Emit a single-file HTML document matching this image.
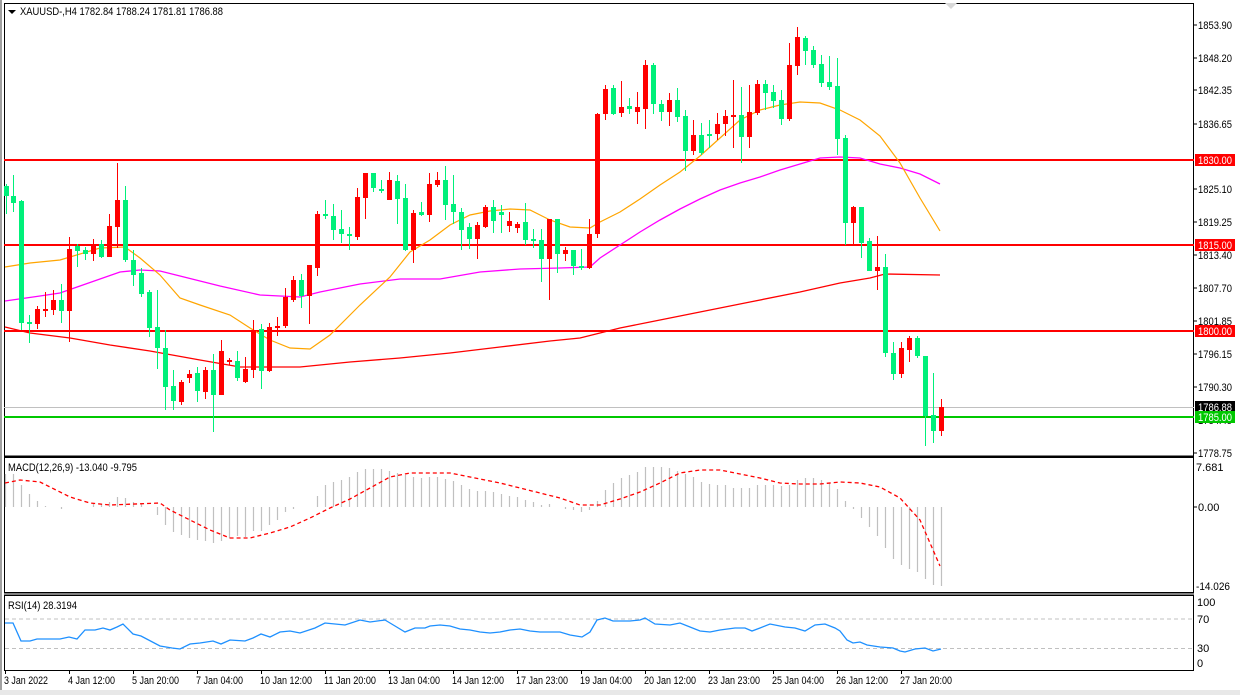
<!DOCTYPE html>
<html><head><meta charset="utf-8"><style>
html,body{margin:0;padding:0;background:#fff;}
svg{display:block;font-family:"Liberation Sans",sans-serif;font-size:11px;}
</style></head><body>
<svg width="1240" height="695" viewBox="0 0 1240 695" xmlns="http://www.w3.org/2000/svg">
<rect width="1240" height="695" fill="#fff"/>
<rect x="0" y="0" width="2" height="695" fill="#a0a0a0"/>
<rect x="0" y="690" width="1240" height="5" fill="#e8e8e8"/>
<!-- panels -->
<rect x="4.5" y="3.5" width="1189" height="453" fill="none" stroke="#000"/>
<rect x="4.5" y="457.5" width="1189" height="135" fill="none" stroke="#000"/>
<rect x="4.5" y="595.5" width="1189" height="75" fill="none" stroke="#000"/>
<line x1="4" y1="594" x2="1194" y2="594" stroke="#000"/>
<line x1="4" y1="456" x2="1194" y2="456" stroke="#000"/>
<polygon points="945,3 957,3 951,9" fill="#d8d8d8"/>

<!-- title -->
<polygon points="8,10 16,10 12,14" fill="#000"/>
<text x="20" y="15" fill="#000" textLength="203" lengthAdjust="spacingAndGlyphs">XAUUSD-,H4  1782.84 1788.24 1781.81 1786.88</text>

<!-- horizontal levels -->
<line x1="4" y1="407.5" x2="1194" y2="407.5" stroke="#c0c0c0"/>
<rect x="4" y="159" width="1190" height="2" fill="#ff0000"/>
<rect x="4" y="244" width="1190" height="2" fill="#ff0000"/>
<rect x="4" y="330" width="1190" height="2" fill="#ff0000"/>
<rect x="4" y="416" width="1190" height="2" fill="#00c800"/>

<!-- MAs -->
<polyline fill="none" stroke="#ff0000" stroke-width="1.3" points="5,327 30,333 70,338 110,345 150,351 200,360 240,367 300,367 350,362 400,358 450,353 500,347 550,341 580,338 600,333 620,328 650,322 700,312 750,302 800,292 840,283 870,278 885,274 940,275"/>
<polyline fill="none" stroke="#ff00ff" stroke-width="1.3" points="5,301 40,296 60,293 80,286 100,279 120,272 140,270 160,271 180,276 200,281 220,286 260,295 300,297 320,292 360,284 400,279 440,279 480,272 520,269 560,268 590,267 600,258 620,245 640,232 660,220 680,209 700,199 720,190 740,183 760,177 780,170 800,164 820,158 840,157 860,158 880,164 900,168 920,174 940,184"/>
<polyline fill="none" stroke="#ffa500" stroke-width="1.2" points="5,267 30,263 60,260 100,248 125,247 140,258 160,275 180,298 200,305 230,315 250,328 270,340 290,348 310,349 330,335 360,305 390,277 410,252 430,240 450,225 470,215 490,211 510,209 530,210 550,220 570,227 590,228 600,222 620,212 640,199 660,185 680,172 700,156 720,138 740,120 760,110 780,105 800,102 820,103 840,110 860,120 880,136 900,163 920,198 940,231"/>

<!-- candles -->
<g id="c">
<g stroke="#00f07a" fill="#00f07a">
<line x1="6.5" y1="184" x2="6.5" y2="214"/><rect x="4" y="186" width="5" height="10" stroke="none"/>
<line x1="13.5" y1="175" x2="13.5" y2="212"/><rect x="11" y="196" width="5" height="7" stroke="none"/>
<line x1="21.5" y1="200" x2="21.5" y2="330"/><rect x="19" y="201" width="5" height="122" stroke="none"/>
<line x1="29.5" y1="315" x2="29.5" y2="343"/><rect x="27" y="322" width="5" height="2" stroke="none"/>
<line x1="61.5" y1="284" x2="61.5" y2="323"/><rect x="59" y="300" width="5" height="11" stroke="none"/>
<line x1="77.5" y1="244" x2="77.5" y2="267"/><rect x="75" y="246" width="5" height="5" stroke="none"/>
<line x1="85.5" y1="247" x2="85.5" y2="260"/><rect x="83" y="250" width="5" height="4" stroke="none"/>
<line x1="101.5" y1="240" x2="101.5" y2="258"/><rect x="99" y="244" width="5" height="13" stroke="none"/>
<line x1="125.5" y1="186" x2="125.5" y2="262"/><rect x="123" y="200" width="5" height="60" stroke="none"/>
<line x1="133.5" y1="250" x2="133.5" y2="286"/><rect x="131" y="260" width="5" height="15" stroke="none"/>
<line x1="141.5" y1="268" x2="141.5" y2="297"/><rect x="139" y="273" width="5" height="21" stroke="none"/>
<line x1="149.5" y1="290" x2="149.5" y2="337"/><rect x="147" y="292" width="5" height="36" stroke="none"/>
<line x1="157.5" y1="290" x2="157.5" y2="369"/><rect x="155" y="327" width="5" height="21" stroke="none"/>
<line x1="165.5" y1="330" x2="165.5" y2="410"/><rect x="163" y="348" width="5" height="39" stroke="none"/>
<line x1="173.5" y1="370" x2="173.5" y2="410"/><rect x="171" y="386" width="5" height="15" stroke="none"/>
<line x1="197.5" y1="367" x2="197.5" y2="402"/><rect x="195" y="373" width="5" height="18" stroke="none"/>
<line x1="213.5" y1="354" x2="213.5" y2="432"/><rect x="211" y="370" width="5" height="25" stroke="none"/>
<line x1="237.5" y1="351" x2="237.5" y2="381"/><rect x="235" y="361" width="5" height="17" stroke="none"/>
<line x1="261.5" y1="324" x2="261.5" y2="389"/><rect x="259" y="329" width="5" height="42" stroke="none"/>
<line x1="301.5" y1="274" x2="301.5" y2="308"/><rect x="299" y="280" width="5" height="16" stroke="none"/>
<line x1="325.5" y1="200" x2="325.5" y2="219"/><rect x="323" y="214" width="5" height="2" stroke="none"/>
<line x1="333.5" y1="204" x2="333.5" y2="240"/><rect x="331" y="216" width="5" height="14" stroke="none"/>
<line x1="341.5" y1="210" x2="341.5" y2="243"/><rect x="339" y="229" width="5" height="5" stroke="none"/>
<line x1="349.5" y1="227" x2="349.5" y2="250"/><rect x="347" y="234" width="5" height="2" stroke="none"/>
<line x1="373.5" y1="173" x2="373.5" y2="192"/><rect x="371" y="173" width="5" height="15" stroke="none"/>
<line x1="381.5" y1="180" x2="381.5" y2="193"/><rect x="379" y="189" width="5" height="2" stroke="none"/>
<line x1="397.5" y1="175" x2="397.5" y2="224"/><rect x="395" y="181" width="5" height="18" stroke="none"/>
<line x1="405.5" y1="184" x2="405.5" y2="251"/><rect x="403" y="198" width="5" height="52" stroke="none"/>
<line x1="421.5" y1="202" x2="421.5" y2="216"/><rect x="419" y="212" width="5" height="3" stroke="none"/>
<line x1="445.5" y1="166" x2="445.5" y2="220"/><rect x="443" y="180" width="5" height="25" stroke="none"/>
<line x1="453.5" y1="175" x2="453.5" y2="224"/><rect x="451" y="204" width="5" height="8" stroke="none"/>
<line x1="461.5" y1="208" x2="461.5" y2="250"/><rect x="459" y="212" width="5" height="18" stroke="none"/>
<line x1="469.5" y1="223" x2="469.5" y2="249"/><rect x="467" y="227" width="5" height="12" stroke="none"/>
<line x1="493.5" y1="200" x2="493.5" y2="233"/><rect x="491" y="207" width="5" height="14" stroke="none"/>
<line x1="501.5" y1="205" x2="501.5" y2="233"/><rect x="499" y="212" width="5" height="3" stroke="none"/>
<line x1="525.5" y1="203" x2="525.5" y2="245"/><rect x="523" y="222" width="5" height="18" stroke="none"/>
<line x1="533.5" y1="229" x2="533.5" y2="248"/><rect x="531" y="239" width="5" height="2" stroke="none"/>
<line x1="541.5" y1="229" x2="541.5" y2="282"/><rect x="539" y="240" width="5" height="19" stroke="none"/>
<line x1="557.5" y1="219" x2="557.5" y2="273"/><rect x="555" y="219" width="5" height="35" stroke="none"/>
<line x1="573.5" y1="250" x2="573.5" y2="275"/><rect x="571" y="250" width="5" height="16" stroke="none"/>
<line x1="581.5" y1="249" x2="581.5" y2="270"/><rect x="579" y="266" width="5" height="2" stroke="none"/>
<line x1="613.5" y1="85" x2="613.5" y2="115"/><rect x="611" y="88" width="5" height="26" stroke="none"/>
<line x1="629.5" y1="98" x2="629.5" y2="114"/><rect x="627" y="106" width="5" height="3" stroke="none"/>
<line x1="653.5" y1="63" x2="653.5" y2="114"/><rect x="651" y="65" width="5" height="39" stroke="none"/>
<line x1="661.5" y1="100" x2="661.5" y2="121"/><rect x="659" y="104" width="5" height="8" stroke="none"/>
<line x1="677.5" y1="88" x2="677.5" y2="122"/><rect x="675" y="100" width="5" height="17" stroke="none"/>
<line x1="685.5" y1="110" x2="685.5" y2="171"/><rect x="683" y="116" width="5" height="35" stroke="none"/>
<line x1="701.5" y1="123" x2="701.5" y2="155"/><rect x="699" y="135" width="5" height="18" stroke="none"/>
<line x1="709.5" y1="120" x2="709.5" y2="148"/><rect x="707" y="134" width="5" height="2" stroke="none"/>
<line x1="741.5" y1="87" x2="741.5" y2="163"/><rect x="739" y="115" width="5" height="22" stroke="none"/>
<line x1="765.5" y1="80" x2="765.5" y2="110"/><rect x="763" y="84" width="5" height="9" stroke="none"/>
<line x1="773.5" y1="85" x2="773.5" y2="108"/><rect x="771" y="92" width="5" height="9" stroke="none"/>
<line x1="781.5" y1="90" x2="781.5" y2="125"/><rect x="779" y="100" width="5" height="19" stroke="none"/>
<line x1="805.5" y1="36" x2="805.5" y2="65"/><rect x="803" y="38" width="5" height="13" stroke="none"/>
<line x1="813.5" y1="46" x2="813.5" y2="68"/><rect x="811" y="50" width="5" height="15" stroke="none"/>
<line x1="821.5" y1="55" x2="821.5" y2="87"/><rect x="819" y="64" width="5" height="19" stroke="none"/>
<line x1="829.5" y1="56" x2="829.5" y2="90"/><rect x="827" y="82" width="5" height="5" stroke="none"/>
<line x1="837.5" y1="58" x2="837.5" y2="155"/><rect x="835" y="86" width="5" height="53" stroke="none"/>
<line x1="845.5" y1="135" x2="845.5" y2="245"/><rect x="843" y="138" width="5" height="85" stroke="none"/>
<line x1="861.5" y1="207" x2="861.5" y2="258"/><rect x="859" y="207" width="5" height="36" stroke="none"/>
<line x1="869.5" y1="238" x2="869.5" y2="258"/><rect x="867" y="241" width="5" height="30" stroke="none"/>
<line x1="885.5" y1="254" x2="885.5" y2="357"/><rect x="883" y="267" width="5" height="86" stroke="none"/>
<line x1="893.5" y1="342" x2="893.5" y2="380"/><rect x="891" y="353" width="5" height="21" stroke="none"/>
<line x1="917.5" y1="336" x2="917.5" y2="358"/><rect x="915" y="338" width="5" height="18" stroke="none"/>
<line x1="925.5" y1="356" x2="925.5" y2="446"/><rect x="923" y="356" width="5" height="60" stroke="none"/>
<line x1="933.5" y1="373" x2="933.5" y2="443"/><rect x="931" y="415" width="5" height="16" stroke="none"/>
</g>
<g stroke="#ff0000" fill="#ff0000">
<line x1="37.5" y1="306" x2="37.5" y2="329"/><rect x="35" y="309" width="5" height="15" stroke="none"/>
<line x1="45.5" y1="292" x2="45.5" y2="317"/><rect x="43" y="309" width="5" height="2" stroke="none"/>
<line x1="53.5" y1="290" x2="53.5" y2="315"/><rect x="51" y="300" width="5" height="10" stroke="none"/>
<line x1="69.5" y1="237" x2="69.5" y2="342"/><rect x="67" y="249" width="5" height="62" stroke="none"/>
<line x1="93.5" y1="239" x2="93.5" y2="261"/><rect x="91" y="244" width="5" height="10" stroke="none"/>
<line x1="109.5" y1="214" x2="109.5" y2="257"/><rect x="107" y="226" width="5" height="31" stroke="none"/>
<line x1="117.5" y1="163" x2="117.5" y2="248"/><rect x="115" y="200" width="5" height="27" stroke="none"/>
<line x1="181.5" y1="380" x2="181.5" y2="405"/><rect x="179" y="382" width="5" height="20" stroke="none"/>
<line x1="189.5" y1="370" x2="189.5" y2="383"/><rect x="187" y="374" width="5" height="4" stroke="none"/>
<line x1="205.5" y1="367" x2="205.5" y2="399"/><rect x="203" y="370" width="5" height="22" stroke="none"/>
<line x1="221.5" y1="340" x2="221.5" y2="395"/><rect x="219" y="351" width="5" height="44" stroke="none"/>
<line x1="229.5" y1="358" x2="229.5" y2="365"/><rect x="227" y="360" width="5" height="2" stroke="none"/>
<line x1="245.5" y1="357" x2="245.5" y2="383"/><rect x="243" y="369" width="5" height="13" stroke="none"/>
<line x1="253.5" y1="320" x2="253.5" y2="378"/><rect x="251" y="330" width="5" height="40" stroke="none"/>
<line x1="269.5" y1="323" x2="269.5" y2="372"/><rect x="267" y="327" width="5" height="44" stroke="none"/>
<line x1="277.5" y1="317" x2="277.5" y2="336"/><rect x="275" y="326" width="5" height="2" stroke="none"/>
<line x1="285.5" y1="288" x2="285.5" y2="328"/><rect x="283" y="297" width="5" height="29" stroke="none"/>
<line x1="293.5" y1="276" x2="293.5" y2="302"/><rect x="291" y="280" width="5" height="20" stroke="none"/>
<line x1="309.5" y1="265" x2="309.5" y2="324"/><rect x="307" y="265" width="5" height="31" stroke="none"/>
<line x1="317.5" y1="211" x2="317.5" y2="276"/><rect x="315" y="214" width="5" height="54" stroke="none"/>
<line x1="357.5" y1="188" x2="357.5" y2="240"/><rect x="355" y="197" width="5" height="40" stroke="none"/>
<line x1="365.5" y1="173" x2="365.5" y2="219"/><rect x="363" y="173" width="5" height="25" stroke="none"/>
<line x1="389.5" y1="172" x2="389.5" y2="200"/><rect x="387" y="180" width="5" height="20" stroke="none"/>
<line x1="413.5" y1="210" x2="413.5" y2="263"/><rect x="411" y="213" width="5" height="37" stroke="none"/>
<line x1="429.5" y1="173" x2="429.5" y2="222"/><rect x="427" y="184" width="5" height="31" stroke="none"/>
<line x1="437.5" y1="172" x2="437.5" y2="187"/><rect x="435" y="180" width="5" height="5" stroke="none"/>
<line x1="477.5" y1="222" x2="477.5" y2="259"/><rect x="475" y="225" width="5" height="14" stroke="none"/>
<line x1="485.5" y1="205" x2="485.5" y2="228"/><rect x="483" y="207" width="5" height="20" stroke="none"/>
<line x1="509.5" y1="212" x2="509.5" y2="232"/><rect x="507" y="221" width="5" height="5" stroke="none"/>
<line x1="517.5" y1="222" x2="517.5" y2="233"/><rect x="515" y="224" width="5" height="4" stroke="none"/>
<line x1="549.5" y1="219" x2="549.5" y2="300"/><rect x="547" y="219" width="5" height="40" stroke="none"/>
<line x1="565.5" y1="247" x2="565.5" y2="261"/><rect x="563" y="250" width="5" height="4" stroke="none"/>
<line x1="589.5" y1="219" x2="589.5" y2="269"/><rect x="587" y="234" width="5" height="34" stroke="none"/>
<line x1="597.5" y1="113" x2="597.5" y2="238"/><rect x="595" y="114" width="5" height="120" stroke="none"/>
<line x1="605.5" y1="85" x2="605.5" y2="120"/><rect x="603" y="89" width="5" height="25" stroke="none"/>
<line x1="621.5" y1="81" x2="621.5" y2="117"/><rect x="619" y="107" width="5" height="6" stroke="none"/>
<line x1="637.5" y1="92" x2="637.5" y2="124"/><rect x="635" y="107" width="5" height="5" stroke="none"/>
<line x1="645.5" y1="60" x2="645.5" y2="129"/><rect x="643" y="65" width="5" height="44" stroke="none"/>
<line x1="669.5" y1="93" x2="669.5" y2="126"/><rect x="667" y="100" width="5" height="12" stroke="none"/>
<line x1="693.5" y1="120" x2="693.5" y2="155"/><rect x="691" y="135" width="5" height="16" stroke="none"/>
<line x1="717.5" y1="113" x2="717.5" y2="140"/><rect x="715" y="124" width="5" height="10" stroke="none"/>
<line x1="725.5" y1="110" x2="725.5" y2="136"/><rect x="723" y="116" width="5" height="8" stroke="none"/>
<line x1="733.5" y1="80" x2="733.5" y2="148"/><rect x="731" y="115" width="5" height="2" stroke="none"/>
<line x1="749.5" y1="85" x2="749.5" y2="148"/><rect x="747" y="112" width="5" height="25" stroke="none"/>
<line x1="757.5" y1="80" x2="757.5" y2="115"/><rect x="755" y="84" width="5" height="29" stroke="none"/>
<line x1="789.5" y1="43" x2="789.5" y2="121"/><rect x="787" y="65" width="5" height="54" stroke="none"/>
<line x1="797.5" y1="27" x2="797.5" y2="75"/><rect x="795" y="37" width="5" height="29" stroke="none"/>
<line x1="853.5" y1="206" x2="853.5" y2="245"/><rect x="851" y="207" width="5" height="16" stroke="none"/>
<line x1="877.5" y1="236" x2="877.5" y2="290"/><rect x="875" y="267" width="5" height="4" stroke="none"/>
<line x1="901.5" y1="342" x2="901.5" y2="378"/><rect x="899" y="348" width="5" height="26" stroke="none"/>
<line x1="909.5" y1="336" x2="909.5" y2="362"/><rect x="907" y="338" width="5" height="12" stroke="none"/>
<line x1="941.5" y1="399" x2="941.5" y2="436"/><rect x="939" y="407" width="5" height="24" stroke="none"/>
</g>
</g>

<!-- right axis main -->
<g fill="#000" stroke="#000">
<line x1="1194" y1="25" x2="1197" y2="25"/><line x1="1194" y1="58" x2="1197" y2="58"/><line x1="1194" y1="90" x2="1197" y2="90"/><line x1="1194" y1="124" x2="1197" y2="124"/><line x1="1194" y1="189" x2="1197" y2="189"/><line x1="1194" y1="222" x2="1197" y2="222"/><line x1="1194" y1="255" x2="1197" y2="255"/><line x1="1194" y1="288" x2="1197" y2="288"/><line x1="1194" y1="321" x2="1197" y2="321"/><line x1="1194" y1="354" x2="1197" y2="354"/><line x1="1194" y1="387" x2="1197" y2="387"/><line x1="1194" y1="453" x2="1197" y2="453"/>
</g>
<g fill="#000" font-size="11">
<text x="1198" y="29" textLength="34" lengthAdjust="spacingAndGlyphs">1853.90</text>
<text x="1198" y="62" textLength="34" lengthAdjust="spacingAndGlyphs">1848.20</text>
<text x="1198" y="94" textLength="34" lengthAdjust="spacingAndGlyphs">1842.35</text>
<text x="1198" y="128" textLength="34" lengthAdjust="spacingAndGlyphs">1836.65</text>
<text x="1198" y="193" textLength="34" lengthAdjust="spacingAndGlyphs">1825.10</text>
<text x="1198" y="226" textLength="34" lengthAdjust="spacingAndGlyphs">1819.25</text>
<text x="1198" y="259" textLength="34" lengthAdjust="spacingAndGlyphs">1813.40</text>
<text x="1198" y="292" textLength="34" lengthAdjust="spacingAndGlyphs">1807.70</text>
<text x="1198" y="325" textLength="34" lengthAdjust="spacingAndGlyphs">1801.85</text>
<text x="1198" y="358" textLength="34" lengthAdjust="spacingAndGlyphs">1796.15</text>
<text x="1198" y="391" textLength="34" lengthAdjust="spacingAndGlyphs">1790.30</text>
<text x="1198" y="424" textLength="34" lengthAdjust="spacingAndGlyphs">1784.45</text>
<text x="1198" y="457" textLength="34" lengthAdjust="spacingAndGlyphs">1778.75</text>
</g>
<g fill="#fff" font-size="11">
<rect x="1195" y="154" width="40" height="12" fill="#ff0000"/><text x="1198" y="164" textLength="34" lengthAdjust="spacingAndGlyphs">1830.00</text>
<rect x="1195" y="239" width="40" height="12" fill="#ff0000"/><text x="1198" y="249" textLength="34" lengthAdjust="spacingAndGlyphs">1815.00</text>
<rect x="1195" y="325" width="40" height="12" fill="#ff0000"/><text x="1198" y="335" textLength="34" lengthAdjust="spacingAndGlyphs">1800.00</text>
<rect x="1195" y="401" width="40" height="12" fill="#000"/><text x="1198" y="411" textLength="34" lengthAdjust="spacingAndGlyphs">1786.88</text>
<rect x="1195" y="411" width="40" height="12" fill="#00c800"/><text x="1198" y="421" textLength="34" lengthAdjust="spacingAndGlyphs">1785.00</text>
</g>

<!-- MACD -->
<text x="8" y="471" fill="#000" textLength="129" lengthAdjust="spacingAndGlyphs">MACD(12,26,9) -13.040 -9.795</text>
<g stroke="#c0c0c0" stroke-width="1.2">
<path d="M5.5 507V474M13.5 507V474M21.5 507V485M29.5 507V494M37.5 507V501M45.5 507V506M61.5 507V509M93.5 507V504M101.5 507V504M109.5 507V502M117.5 507V497M125.5 507V498M133.5 507V502M141.5 507V504M157.5 507V515M165.5 507V525M173.5 507V532M181.5 507V535M189.5 507V538M197.5 507V540M205.5 507V541M213.5 507V543M221.5 507V541M229.5 507V538M237.5 507V536M245.5 507V537M253.5 507V531M261.5 507V531M269.5 507V525M277.5 507V520M285.5 507V512M293.5 507V509M317.5 507V496M325.5 507V485M333.5 507V482M341.5 507V480M349.5 507V477M357.5 507V472M365.5 507V469M373.5 507V469M381.5 507V469M389.5 507V471M397.5 507V473M405.5 507V475M413.5 507V477M421.5 507V478M429.5 507V477M437.5 507V477M445.5 507V479M453.5 507V481M461.5 507V485M469.5 507V489M477.5 507V491M485.5 507V491M493.5 507V492M501.5 507V494M509.5 507V496M517.5 507V497M525.5 507V500M533.5 507V502M541.5 507V505M549.5 507V504M565.5 507V509M573.5 507V510M581.5 507V512M589.5 507V510M597.5 507V501M605.5 507V490M613.5 507V483M621.5 507V478M629.5 507V475M637.5 507V472M645.5 507V467M653.5 507V467M661.5 507V467M669.5 507V468M677.5 507V471M685.5 507V474M693.5 507V477M701.5 507V482M709.5 507V484M717.5 507V485M725.5 507V485M733.5 507V488M741.5 507V488M749.5 507V488M757.5 507V485M765.5 507V485M773.5 507V485M781.5 507V486M789.5 507V485M797.5 507V480M805.5 507V478M813.5 507V478M821.5 507V480M829.5 507V483M837.5 507V489M845.5 507V501M853.5 507V509M861.5 507V518M869.5 507V527M877.5 507V536M885.5 507V548M893.5 507V559M901.5 507V565M909.5 507V569M917.5 507V572M925.5 507V579M933.5 507V585M941.5 507V586"/>
</g>
<polyline fill="none" stroke="#ff0000" stroke-width="1.3" stroke-dasharray="4,3" points="5,483 20,480 40,482 50,487 70,497 90,503 110,505 160,503 170,510 190,520 210,530 230,538 250,538 270,533 290,527 310,518 330,508 350,499 370,488 390,477 410,473 450,473 460,475 480,479 500,483 520,488 540,493 560,498 580,505 600,505 620,499 640,492 660,483 680,473 700,470 720,470 740,474 760,478 780,483 800,484 820,484 840,482 860,483 880,487 900,498 920,520 940,566"/>
<text x="1196" y="471" fill="#000">7.681</text>
<line x1="1194" y1="507" x2="1197" y2="507" stroke="#000"/>
<text x="1198" y="511" fill="#000">0.00</text>
<text x="1196" y="590" fill="#000" textLength="34" lengthAdjust="spacingAndGlyphs">-14.026</text>

<!-- RSI -->
<text x="8" y="609" fill="#000" textLength="69" lengthAdjust="spacingAndGlyphs">RSI(14) 28.3194</text>
<line x1="5" y1="619" x2="1193" y2="619" stroke="#c0c0c0" stroke-dasharray="4,3"/>
<line x1="5" y1="648.5" x2="1193" y2="648.5" stroke="#c0c0c0" stroke-dasharray="4,3"/>
<polyline fill="none" stroke="#1e90ff" stroke-width="1.3" points="5,623 13,623 21,641 30,641 37,639 60,639 69,637 77,639 85,630 95,630 103,628 110,630 117,627 123,624 133,634 141,636 160,646 172,648 180,649 190,644 200,643 213,641 221,644 230,640 245,641 253,638 261,634 270,637 280,632 290,631 300,633 315,628 325,623 345,625 360,620 370,622 385,620 395,626 405,632 410,630 415,628 425,628 430,626 440,625 450,626 460,629 470,630 480,632 490,633 500,632 510,630 520,629 530,631 540,632 560,632 570,635 582,637 590,632 597,620 605,618 613,621 630,621 640,620 645,618 655,624 670,625 680,623 690,627 700,631 710,632 720,630 735,628 745,628 752,631 760,628 770,624 785,627 795,628 805,631 815,625 825,624 835,628 840,631 847,640 853,643 860,642 867,645 880,647 893,648 900,651 905,652 915,649 925,648 933,651 941,649"/>
<text x="1197" y="606" fill="#000">100</text>
<text x="1197" y="623" fill="#000">70</text>
<text x="1197" y="652" fill="#000">30</text>
<text x="1197" y="667" fill="#000">0</text>

<!-- time axis -->
<g stroke="#000">
<path d="M5.5 670v4M69.5 670v4M133.5 670v4M197.5 670v4M261.5 670v4M325.5 670v4M389.5 670v4M453.5 670v4M517.5 670v4M581.5 670v4M645.5 670v4M709.5 670v4M773.5 670v4M837.5 670v4M901.5 670v4"/>
</g>
<g fill="#000" font-size="11">
<text x="4" y="684" textLength="44" lengthAdjust="spacingAndGlyphs">3 Jan 2022</text>
<text x="68" y="684" textLength="47" lengthAdjust="spacingAndGlyphs">4 Jan 12:00</text>
<text x="132" y="684" textLength="47" lengthAdjust="spacingAndGlyphs">5 Jan 20:00</text>
<text x="196" y="684" textLength="47" lengthAdjust="spacingAndGlyphs">7 Jan 04:00</text>
<text x="260" y="684" textLength="52" lengthAdjust="spacingAndGlyphs">10 Jan 12:00</text>
<text x="324" y="684" textLength="52" lengthAdjust="spacingAndGlyphs">11 Jan 20:00</text>
<text x="388" y="684" textLength="52" lengthAdjust="spacingAndGlyphs">13 Jan 04:00</text>
<text x="452" y="684" textLength="52" lengthAdjust="spacingAndGlyphs">14 Jan 12:00</text>
<text x="516" y="684" textLength="52" lengthAdjust="spacingAndGlyphs">17 Jan 23:00</text>
<text x="580" y="684" textLength="52" lengthAdjust="spacingAndGlyphs">19 Jan 04:00</text>
<text x="644" y="684" textLength="52" lengthAdjust="spacingAndGlyphs">20 Jan 12:00</text>
<text x="708" y="684" textLength="52" lengthAdjust="spacingAndGlyphs">23 Jan 23:00</text>
<text x="772" y="684" textLength="52" lengthAdjust="spacingAndGlyphs">25 Jan 04:00</text>
<text x="836" y="684" textLength="52" lengthAdjust="spacingAndGlyphs">26 Jan 12:00</text>
<text x="900" y="684" textLength="52" lengthAdjust="spacingAndGlyphs">27 Jan 20:00</text>
</g>
</svg>
</body></html>
